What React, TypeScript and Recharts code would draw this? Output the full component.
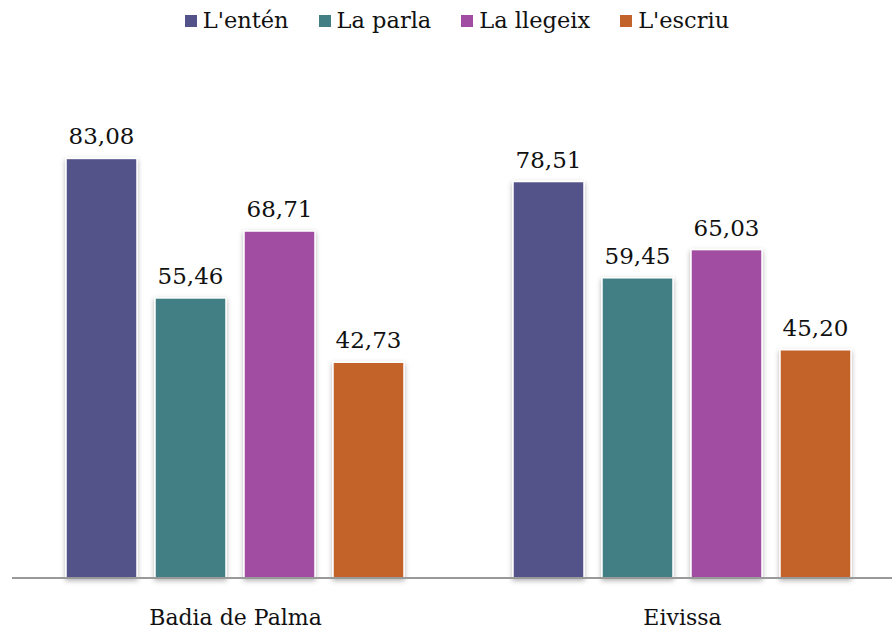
import React from 'react';
import { BarChart, Bar, XAxis, YAxis, LabelList } from 'recharts';

const categories = ['Badia de Palma', 'Eivissa'];
const seriesNames = ["L'entén", 'La parla', 'La llegeix', "L'escriu"];
const entenValues = [83.08, 78.51];
const parlaValues = [55.46, 59.45];
const llegeixValues = [68.71, 65.03];
const escriuValues = [42.73, 45.2];
const colors = ['#535289', '#427F84', '#A04DA2', '#C3632C'];

const keys = ['s0', 's1', 's2', 's3'];
const data = categories.map((c, i) => ({
  name: c,
  s0: entenValues[i],
  s1: parlaValues[i],
  s2: llegeixValues[i],
  s3: escriuValues[i],
}));

const fmt = (v: any) => Number(v).toFixed(2).replace('.', ',');

const FONT = '"DejaVu Serif", serif';

const BarShape = (props: any) => {
  const { x, y, width, height, fill } = props;
  return (
    <rect
      x={x}
      y={y}
      width={width}
      height={height}
      fill={fill}
      stroke="#ffffff"
      strokeWidth={1.5}
      filter="url(#barShadow)"
    />
  );
};

const Legend = () => (
  <div
    style={{
      position: 'absolute',
      left: 0,
      top: 7,
      width: 892,
      display: 'flex',
      justifyContent: 'center',
      paddingLeft: 22,
      boxSizing: 'border-box',
      fontFamily: FONT,
      fontSize: 22.5,
      color: '#111',
    }}
  >
    {seriesNames.map((n, i) => (
      <div key={n} style={{ display: 'flex', alignItems: 'center', marginRight: i < 3 ? 30 : 0 }}>
        <div style={{ width: 12, height: 12, background: colors[i], marginRight: 6, marginTop: 2 }} />
        <span>{n}</span>
      </div>
    ))}
  </div>
);

export default function App() {
  return (
    <div style={{ position: 'absolute', left: 0, top: 0, width: 892, height: 630, overflow: 'hidden', background: '#fff' }}>
      <svg width={0} height={0} style={{ position: 'absolute' }}>
        <defs>
          <filter id="barShadow" x="-20%" y="-5%" width="140%" height="115%">
            <feDropShadow dx="0" dy="2" stdDeviation="2.5" floodColor="#000" floodOpacity="0.3" />
          </filter>
        </defs>
      </svg>
      <Legend />
      <BarChart
        width={906}
        height={630}
        data={data}
        margin={{ top: 73, right: 0, left: 12, bottom: 22 }}
        barCategoryGap={54}
        barGap={18}
        style={{ position: 'absolute', left: 0, top: 0 }}
      >
        <XAxis
          dataKey="name"
          axisLine={{ stroke: '#999', strokeWidth: 2 }}
          tickLine={false}
          tick={{ fontFamily: FONT, fontSize: 22, fill: '#111' }}
          tickMargin={25}
        />
        <YAxis hide domain={[0, 100]} />
        {keys.map((k, i) => (
          <Bar key={k} dataKey={k} fill={colors[i]} isAnimationActive={false} shape={BarShape}>
            <LabelList
              dataKey={k}
              position="top"
              offset={14}
              formatter={fmt}
              style={{ fontFamily: FONT, fontSize: 23, fill: '#111' }}
            />
          </Bar>
        ))}
      </BarChart>
    </div>
  );
}
